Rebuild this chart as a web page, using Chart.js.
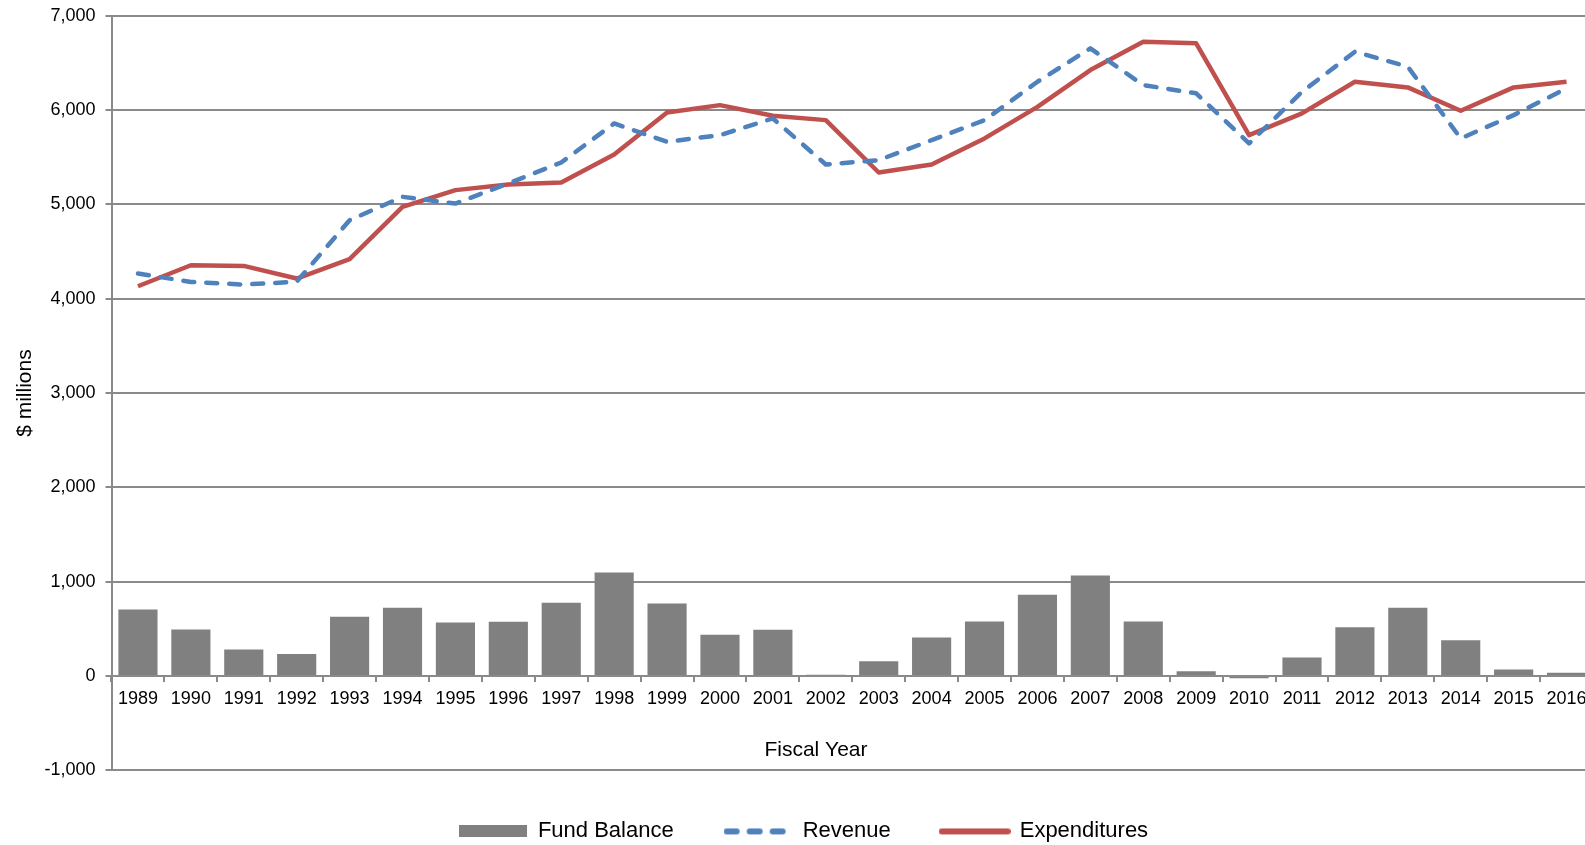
<!DOCTYPE html>
<html>
<head>
<meta charset="utf-8">
<script src="https://cdn.jsdelivr.net/npm/chart.js@4/dist/chart.umd.min.js"></script>
<style>
  html, body { margin: 0; padding: 0; background: #fff; overflow: hidden; }
  #wrap { position: absolute; left: 0; top: 0; width: 1596px; height: 845px; }
</style>
</head>
<body>
<div id="wrap"><canvas id="c"></canvas></div>
<script>
const years = ['1989','1990','1991','1992','1993','1994','1995','1996','1997','1998','1999','2000','2001','2002','2003','2004','2005','2006','2007','2008','2009','2010','2011','2012','2013','2014','2015','2016'];
const fundBalance = [705, 493, 281, 235, 628, 723, 567, 575, 776, 1098, 769, 437, 490, 15, 157, 408, 578, 861, 1066, 578, 51, -23, 196, 518, 723, 380, 69, 34];
const revenue = [4267, 4178, 4150, 4180, 4832, 5080, 5009, 5222, 5444, 5858, 5663, 5734, 5911, 5423, 5469, 5681, 5893, 6300, 6654, 6265, 6177, 5646, 6193, 6618, 6459, 5699, 5946, 6230];
const expenditures = [4132, 4355, 4348, 4214, 4419, 4974, 5151, 5211, 5232, 5529, 5975, 6052, 5939, 5893, 5338, 5423, 5699, 6034, 6424, 6724, 6707, 5734, 5964, 6300, 6240, 5992, 6240, 6300];
const yMin = -1000, yMax = 7000, yStep = 1000;
const seriesNames = ['Fund Balance', 'Revenue', 'Expenditures'];
const xTitle = 'Fiscal Year';
const yTitle = '$ millions';

const FONT = "'Liberation Sans', Arial, sans-serif";
const GRID = '#8a8a8a';
const BAR = '#808080', BLUE = '#4F81BD', RED = '#C0504D';
const REV_DASH = [11, 12];

// legend icons
function icon(draw, w, h) {
  const c = document.createElement('canvas');
  c.width = w; c.height = h;
  draw(c.getContext('2d'), w, h);
  return c;
}
const iconBar = icon((g, w, h) => { g.fillStyle = BAR; g.fillRect(0, 0, w, h); }, 68, 12);
const iconRev = icon((g, w, h) => {
  g.strokeStyle = BLUE; g.lineWidth = 6; g.lineCap = 'round'; g.setLineDash([10, 13]);
  g.beginPath(); g.moveTo(3, h / 2); g.lineTo(w, h / 2); g.stroke();
}, 68, 8);
const iconExp = icon((g, w, h) => {
  g.strokeStyle = RED; g.lineWidth = 6; g.lineCap = 'round';
  g.beginPath(); g.moveTo(3, h / 2); g.lineTo(w - 3, h / 2); g.stroke();
}, 72, 8);
const icons = [iconBar, iconRev, iconExp];

const layoutTweak = {
  id: 'layoutTweak',
  afterLayout(chart) {
    const lg = chart.legend;
    if (lg) { lg.left += 7; lg.right += 7; }
  },
  afterDraw(chart) {
    const ctx = chart.ctx, ca = chart.chartArea, y0 = chart.scales.y.getPixelForValue(0);
    ctx.save();
    ctx.font = '21px ' + FONT;
    ctx.fillStyle = '#000';
    ctx.textAlign = 'center';
    ctx.textBaseline = 'middle';
    ctx.fillText(xTitle, ca.left + (ca.right - ca.left) * 0.4755, y0 + 74);
    ctx.restore();
  }
};

new Chart(document.getElementById('c'), {
  data: {
    labels: years,
    datasets: [
      {
        type: 'bar', label: seriesNames[0], data: fundBalance,
        backgroundColor: BAR, borderWidth: 0,
        barPercentage: 0.74, categoryPercentage: 1.0
      },
      {
        type: 'line', label: seriesNames[1], data: revenue,
        borderColor: BLUE, backgroundColor: BLUE, borderWidth: 4.5,
        borderDash: REV_DASH, borderCapStyle: 'round', borderJoinStyle: 'round',
        pointRadius: 0, tension: 0, fill: false
      },
      {
        type: 'line', label: seriesNames[2], data: expenditures,
        borderColor: RED, backgroundColor: RED, borderWidth: 4.5,
        borderJoinStyle: 'round',
        pointRadius: 0, tension: 0, fill: false
      }
    ]
  },
  plugins: [layoutTweak],
  options: {
    responsive: true, maintainAspectRatio: false, animation: false,
    layout: { padding: { top: 15.7, right: 3, left: 0, bottom: -7.4 } },
    plugins: {
      tooltip: { enabled: false },
      legend: {
        position: 'bottom',
        labels: {
          usePointStyle: true, pointStyleWidth: 68, boxHeight: 12,
          padding: 50, color: '#000',
          font: { family: FONT, size: 22 },
          generateLabels: (chart) => {
            const items = Chart.defaults.plugins.legend.labels.generateLabels(chart);
            items.forEach((it, i) => { it.pointStyle = icons[i]; });
            return items;
          }
        }
      }
    },
    scales: {
      x: {
        type: 'category', position: { y: 0 }, offset: true,
        grid: { display: true, drawOnChartArea: false, drawTicks: true, tickLength: 5, offset: true, color: GRID, lineWidth: 2 },
        border: { display: true, color: GRID, width: 2 },
        ticks: { color: '#000', font: { family: FONT, size: 18 }, padding: 7.5, maxRotation: 0, autoSkip: false },
        title: { display: false }
      },
      y: {
        min: yMin, max: yMax,
        ticks: { stepSize: yStep, color: '#000', font: { family: FONT, size: 18 }, padding: 10 },
        grid: { color: GRID, lineWidth: 2, tickLength: 6 },
        border: { display: true, color: GRID, width: 2 },
        title: { display: true, text: yTitle, color: '#000', font: { family: FONT, size: 21 }, padding: { top: 13, bottom: 0 } },
        afterFit: (s) => { s.width = 111.5; s.paddingTop = 0; s.paddingBottom = 0; }
      }
    }
  }
});
</script>
</body>
</html>
